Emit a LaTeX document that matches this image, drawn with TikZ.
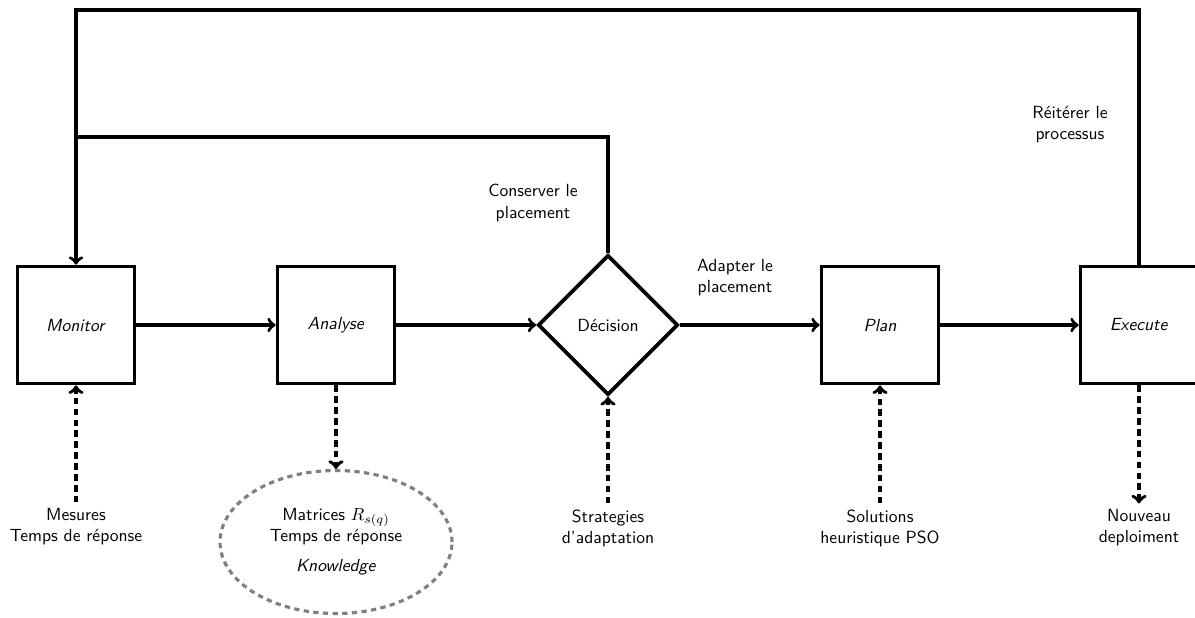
\documentclass[tikz,border=0pt]{standalone}
\usetikzlibrary{shapes.geometric}
\begin{document}
\begin{tikzpicture}[font=\sffamily]
\tikzstyle{dep}= [->,line width=1.9pt]
\tikzstyle{src}= [->,line width=2pt,dash pattern=on 3.8pt off 2.4pt]
\tikzstyle{bb}= [rectangle,draw,line width=2.1pt,minimum size=2.34cm]
\tikzstyle{txt}= [align=center]

\useasboundingbox (0,0) rectangle (23.9,-12.34);
\path
	( 1.52,-6.5) node[bb] (mon) {\textit{Monitor}}
	( 6.72,-6.5) node[bb] (ana) {\textit{Analyse}}
	(12.16,-6.5) node[diamond,draw,line width=2.1pt,minimum size=2.8cm,inner sep=0pt] (dec) {Décision}
	(17.6,-6.5) node[bb] (pla) {\textit{Plan}}
	(22.78,-6.5) node[bb] (exe) {\textit{Execute}}
;
\path
	( 1.52,-10.54) node[txt] (mes) {Mesures\\Temps de réponse}
	( 6.72,-10.84) node[ellipse,draw=gray,line width=1.8pt,dash pattern=on 3pt off 2.5pt,minimum width=4.64cm,minimum height=2.86cm,align=center] (kno) {Matrices $R_{s(q)}$\\Temps de réponse\\[5pt]\textit{Knowledge}}
	(12.16,-10.56) node[txt] (str) {Strategies\\d'adaptation}
	(17.6,-10.56) node[txt] (sol) {Solutions\\heuristique PSO}
	(22.78,-10.56) node[txt] (nou) {Nouveau\\deploiment}
;
\coordinate (t1) at (22.78,-0.2);
\coordinate (t2) at (1.52,-0.2);
\coordinate (c1) at (12.16,-2.74);
\coordinate (c2) at (1.52,-2.74);

\draw[dep] (mon) -- (ana);
\draw[dep] (ana) -- (dec);
\draw[dep] (dec) -- (pla);
\draw[dep] (pla) -- (exe);
\draw[dep] (exe.north) -- (t1) -- (t2) -- (mon.north);
\draw[line width=1.9pt] (dec.north) -- (c1) -- (c2);

\draw[src] (mes.north) -- (mon.south);
\draw[src] (ana.south) -- (kno.north);
\draw[src] (str.north) -- (dec.south);
\draw[src] (sol.north) -- (pla.south);
\draw[src] (exe.south) -- (nou.north);

\node[txt] at (10.66,-4.06) {Conserver le\\placement};
\node[txt] at (14.7,-5.56) {Adapter le\\placement};
\node[txt] at (21.4,-2.5) {Réitérer le\\processus};
\end{tikzpicture}
\end{document}
